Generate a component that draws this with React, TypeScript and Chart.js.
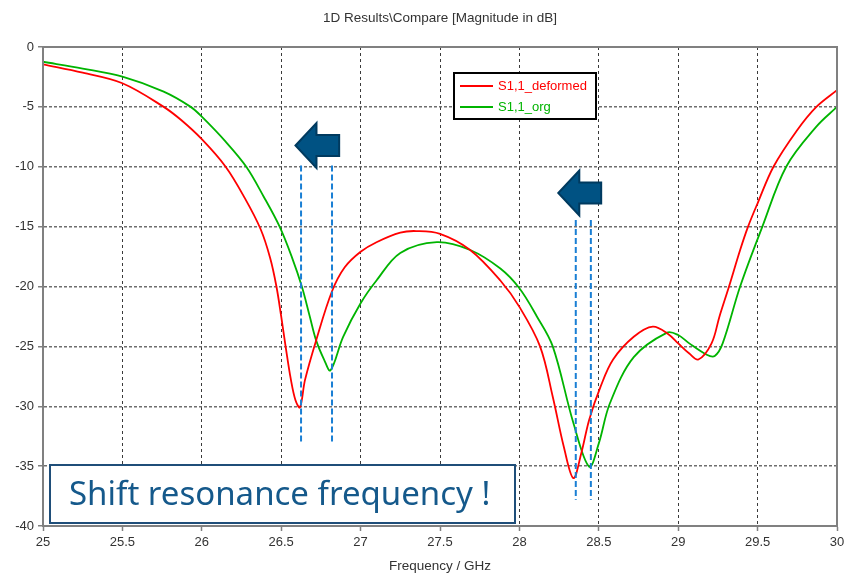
import React, { useEffect, useRef } from "react";
import { Chart, registerables } from "chart.js";

Chart.register(...registerables);

// ---------- data ----------
const freqDeformed = [
  25.0, 25.25, 25.5, 25.76, 25.87, 26.0, 26.15, 26.27, 26.37, 26.43, 26.47, 26.5, 26.53,
  26.56, 26.59, 26.618, 26.65, 26.72, 26.82, 26.9, 27.0, 27.1, 27.25, 27.35, 27.5, 27.69, 27.88,
  28.0, 28.13, 28.21, 28.28, 28.34, 28.39, 28.44, 28.51, 28.59, 28.72, 28.84, 28.94, 29.0, 29.07,
  29.127, 29.21, 29.26, 29.32, 29.39, 29.44, 29.5, 29.6, 29.75, 29.87, 30.0,
];
const s11Deformed = [
  -1.45, -2.15, -3.03, -5.0, -6.1, -7.7, -10.0, -12.6, -15.2, -17.6, -20.0, -22.5, -25.2,
  -27.7, -29.5, -30.1, -27.8, -24.5, -20.4, -18.4, -17.1, -16.3, -15.5, -15.37, -15.6, -16.95, -19.5,
  -21.7, -25.0, -29.2, -33.4, -36.0, -33.9, -31.1, -28.4, -26.1, -24.2, -23.35, -24.0, -24.75, -25.6,
  -26.1, -24.75, -22.5, -20.0, -16.95, -15.0, -13.05, -10.0, -6.93, -5.0, -3.6,
];
const freqOrg = [
  25.0, 25.25, 25.5, 25.76, 25.93, 26.0, 26.15, 26.28, 26.39, 26.49, 26.566, 26.63, 26.68,
  26.72, 26.77, 26.81, 26.89, 27.0, 27.1, 27.25, 27.48, 27.69, 27.88, 28.0, 28.11, 28.21, 28.34,
  28.44, 28.5, 28.57, 28.72, 28.93, 29.0, 29.07, 29.18, 29.23, 29.28, 29.39, 29.53, 29.68,
  29.87, 30.0,
];
const s11Org = [
  -1.23, -1.8, -2.48, -3.73, -5.0, -5.82, -7.9, -10.0, -12.5, -15.0, -17.5, -20.0, -22.5,
  -24.5, -26.1, -27.0, -24.2, -21.4, -19.5, -17.2, -16.3, -16.95, -18.5, -20.15, -22.5, -25.0, -31.4,
  -35.05, -33.1, -29.75, -25.9, -23.85, -24.05, -24.75, -25.7, -25.8, -24.75, -20.0, -15.0, -10.0,
  -6.65, -5.0,
];
const seriesNames = ["S1,1_deformed", "S1,1_org"];
const seriesColors = ["#ff0000", "#00b400"];
const xTicks = [25, 25.5, 26, 26.5, 27, 27.5, 28, 28.5, 29, 29.5, 30];
const yTicks = [0, -5, -10, -15, -20, -25, -30, -35, -40];

// resonance markers (GHz / dB)
const markerFreqs = [26.625, 26.82, 28.355, 28.45];
const markerTop = [-9.9, -9.9, -14.45, -14.45];
const markerBottom = [-33.2, -33.2, -37.8, -37.8];
// shift arrows (GHz / dB)
const arrowTip = [26.59, 28.245];
const arrowTail = [26.865, 28.515];
const arrowLevel = [-8.23, -12.19];

const titleText = "1D Results\\Compare [Magnitude in dB]";
const xTitle = "Frequency / GHz";
const noteText = "Shift resonance frequency !";

const FONT = "'Liberation Sans', Arial, sans-serif";

export default function App() {
  const ref = useRef<HTMLCanvasElement | null>(null);

  useEffect(() => {
    if (!ref.current) return;

    const overlay = {
      id: "overlay",
      afterDatasetsDraw(chart: any) {
        const { ctx, chartArea: a, scales } = chart;
        const xs = scales.x;
        const ys = scales.y;
        ctx.save();
        // arrows
        for (let i = 0; i < arrowTip.length; i++) {
          const tx = xs.getPixelForValue(arrowTip[i]);
          const ex = xs.getPixelForValue(arrowTail[i]);
          const cy = ys.getPixelForValue(arrowLevel[i]);
          const hl = 21;
          const hh = 22.5;
          const sh = 10.5;
          const bx = tx + hl;
          ctx.beginPath();
          ctx.moveTo(tx, cy);
          ctx.lineTo(bx, cy - hh);
          ctx.lineTo(bx, cy - sh);
          ctx.lineTo(ex, cy - sh);
          ctx.lineTo(ex, cy + sh);
          ctx.lineTo(bx, cy + sh);
          ctx.lineTo(bx, cy + hh);
          ctx.closePath();
          ctx.fillStyle = "#005283";
          ctx.fill();
          ctx.lineWidth = 2;
          ctx.strokeStyle = "#003a5f";
          ctx.lineJoin = "miter";
          ctx.stroke();
        }
        // note box
        const bx0 = a.left + 7;
        const by1 = a.bottom - 3;
        const bw = 465;
        const bh = 58;
        ctx.fillStyle = "#ffffff";
        ctx.fillRect(bx0, by1 - bh, bw, bh);
        ctx.lineWidth = 2;
        ctx.strokeStyle = "#1f4e79";
        ctx.strokeRect(bx0, by1 - bh, bw, bh);
        ctx.fillStyle = "#15598b";
        ctx.font = "33px 'Noto Sans', 'Open Sans', sans-serif";
        ctx.textAlign = "left";
        ctx.textBaseline = "alphabetic";
        ctx.fillText(noteText, bx0 + 19, by1 - 18);
        ctx.restore();
      },
      afterDraw(chart: any) {
        const { ctx, chartArea: a } = chart;
        ctx.save();
        // frame
        ctx.lineWidth = 2;
        ctx.strokeStyle = "#808080";
        ctx.strokeRect(a.left, a.top, a.right - a.left, a.bottom - a.top);
        // title
        const cx = (a.left + a.right) / 2;
        ctx.fillStyle = "#333333";
        ctx.font = `13.5px ${FONT}`;
        ctx.textAlign = "center";
        ctx.textBaseline = "middle";
        ctx.fillText(titleText, cx, 18);
        ctx.fillText(xTitle, cx, a.bottom + 40);
        // legend
        ctx.font = `13px ${FONT}`;
        const lx = 454;
        const ly = 73;
        ctx.fillStyle = "#ffffff";
        ctx.fillRect(lx, ly, 142, 46);
        ctx.lineWidth = 2;
        ctx.strokeStyle = "#000000";
        ctx.strokeRect(lx, ly, 142, 46);
        ctx.textAlign = "left";
        for (let i = 0; i < seriesNames.length; i++) {
          const yy = ly + 13 + i * 21;
          ctx.beginPath();
          ctx.moveTo(lx + 6, yy);
          ctx.lineTo(lx + 39, yy);
          ctx.strokeStyle = seriesColors[i];
          ctx.lineWidth = 2;
          ctx.stroke();
          ctx.fillStyle = seriesColors[i];
          ctx.fillText(seriesNames[i], lx + 44, yy);
        }
        ctx.restore();
      },
    };

    const markerSets = markerFreqs.map((f, i) => ({
      label: "marker" + i,
      data: [
        { x: f, y: markerTop[i] },
        { x: f, y: markerBottom[i] },
      ],
      borderColor: "#1a7fd4",
      borderWidth: 2,
      borderDash: [6, 3],
      pointRadius: 0,
      fill: false,
      order: 0,
    }));

    const chart = new Chart(ref.current, {
      type: "line",
      data: {
        datasets: [
          ...markerSets,
          {
            label: seriesNames[0],
            data: freqDeformed.map((x, i) => ({ x, y: s11Deformed[i] })),
            borderColor: seriesColors[0],
            borderWidth: 1.8,
            pointRadius: 0,
            tension: 0.35,
            fill: false,
            order: 1,
          },
          {
            label: seriesNames[1],
            data: freqOrg.map((x, i) => ({ x, y: s11Org[i] })),
            borderColor: seriesColors[1],
            borderWidth: 1.8,
            pointRadius: 0,
            tension: 0.35,
            fill: false,
            order: 2,
          },
        ] as any,
      },
      options: {
        animation: false,
        responsive: true,
        maintainAspectRatio: false,
        events: [],
        layout: { padding: { left: 0, top: 47, right: 7, bottom: 0 } },
        plugins: {
          legend: { display: false },
          tooltip: { enabled: false },
          title: { display: false },
        },
        scales: {
          x: {
            type: "linear",
            min: 25,
            max: 30,
            afterBuildTicks: (s: any) => {
              s.ticks = xTicks.map((v) => ({ value: v }));
            },
            afterFit: (s: any) => {
              s.height = 48;
              s.paddingLeft = 0;
              s.paddingRight = 0;
            },
            ticks: {
              color: "#333333",
              font: { family: FONT, size: 13 },
              padding: 4,
              maxRotation: 0,
              autoSkip: false,
              callback: (v: any) => String(v),
            },
            grid: {
              color: "#3a3a3a",
              lineWidth: 1,
              tickLength: 5,
              tickColor: "#808080",
              tickWidth: 1.5,
              tickBorderDash: [],
            },
            border: { display: true, color: "#808080", width: 2, dash: [3, 3] },
          },
          y: {
            type: "linear",
            min: -40,
            max: 0,
            afterBuildTicks: (s: any) => {
              s.ticks = yTicks.map((v) => ({ value: v }));
            },
            afterFit: (s: any) => {
              s.width = 43;
            },
            ticks: {
              color: "#333333",
              font: { family: FONT, size: 13 },
              padding: 4,
              autoSkip: false,
              callback: (v: any) => String(v),
            },
            grid: {
              color: "#6e6e6e",
              lineWidth: 1.5,
              tickLength: 5,
              tickColor: "#808080",
              tickWidth: 1.5,
              tickBorderDash: [],
            },
            border: { display: true, color: "#808080", width: 2, dash: [3, 2] },
          },
        },
      },
      plugins: [overlay],
    });

    return () => chart.destroy();
  }, []);

  return (
    <div
      style={{
        position: "fixed",
        left: 0,
        top: 0,
        width: 844,
        height: 574,
        background: "#ffffff",
      }}
    >
      <canvas ref={ref} />
    </div>
  );
}
